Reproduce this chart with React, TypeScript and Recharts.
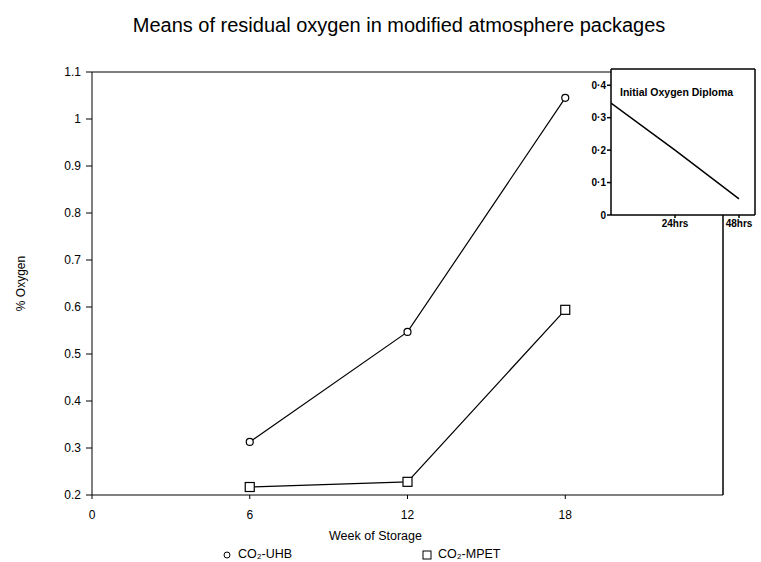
import React from "react";
import {
  LineChart,
  Line,
  XAxis,
  YAxis,
  CartesianGrid,
  ReferenceLine,
  Label,
} from "recharts";

// main chart
const weeks = [6, 12, 18];
const uhbValues = [0.313, 0.547, 1.045];
const mpetValues = [0.217, 0.228, 0.594];
const weekTicks = [0, 6, 12, 18];
const oxygenTicks = [0.2, 0.3, 0.4, 0.5, 0.6, 0.7, 0.8, 0.9, 1.0, 1.1];
const seriesNames = ["CO₂-UHB", "CO₂-MPET"];

// inset chart
const insetHours = [0, 24, 48];
const insetValues = [0.345, 0.2, 0.05];
const insetHourTicks = [24, 48];
const insetOxygenTicks = [0, 0.1, 0.2, 0.3, 0.4];

const FONT = '"Liberation Sans", Arial, Helvetica, sans-serif';

const mainData = weeks.map((w, i) => ({
  week: w,
  uhb: uhbValues[i],
  mpet: mpetValues[i],
}));

const insetData = insetHours.map((h, i) => ({ hrs: h, oxygen: insetValues[i] }));

const SquareDot = (props: any) => {
  const { cx, cy } = props;
  if (cx == null || cy == null) return null;
  return (
    <rect
      x={cx - 4.5}
      y={cy - 4.5}
      width={9}
      height={9}
      fill="#fff"
      stroke="#000"
      strokeWidth={1.2}
    />
  );
};

const tickStyle = { fontSize: 12, fill: "#000", fontFamily: FONT };
const insetTick = { fontSize: 10, fill: "#000", fontFamily: FONT, fontWeight: 700 };

// week tick: small mark under the axis plus the label
const WeekTick = (props: any) => {
  const { x, y, payload } = props;
  return (
    <g>
      <text x={x} y={y + 12} textAnchor="middle" style={tickStyle}>
        {payload.value}
      </text>
    </g>
  );
};

export default function App() {
  return (
    <div
      style={{
        position: "absolute",
        left: 0,
        top: 0,
        width: 761,
        height: 562,
        background: "#fff",
        fontFamily: FONT,
      }}
    >
      <div
        style={{
          position: "absolute",
          top: 14,
          left: 0,
          width: 798,
          textAlign: "center",
          fontSize: 20,
          color: "#000",
        }}
      >
        Means of residual oxygen in modified atmosphere packages
      </div>

      <div style={{ position: "absolute", left: 0, top: 0 }}>
        <LineChart
          width={761}
          height={562}
          data={mainData}
          margin={{ top: 72, right: 38, bottom: 15, left: 12 }}
        >
          <XAxis
            dataKey="week"
            type="number"
            domain={[0, 24]}
            ticks={weekTicks}
            interval={0}
            minTickGap={0}
            height={52}
            tick={<WeekTick />}
            tickSize={4}
            tickMargin={8}
            stroke="#000"
            allowDataOverflow
          >
            <Label
              content={(p: any) => {
                const vb = p.viewBox;
                return (
                  <text
                    x={vb.x + vb.width / 2 - 32}
                    y={vb.y + 45}
                    textAnchor="middle"
                    style={{ ...tickStyle, fontSize: 12.5 }}
                  >
                    Week of Storage
                  </text>
                );
              }}
            />
          </XAxis>
          <YAxis
            type="number"
            domain={[0.2, 1.1]}
            ticks={oxygenTicks}
            interval={0}
            width={80}
            tick={tickStyle}
            tickSize={6}
            tickMargin={5}
            stroke="#000"
            tickFormatter={(v: number) => `${+v.toFixed(1)}`}
            allowDataOverflow
          >
            <Label
              content={(p: any) => {
                const vb = p.viewBox;
                const x = vb.x + 9;
                const y = vb.y + vb.height / 2;
                return (
                  <text
                    x={x}
                    y={y}
                    transform={`rotate(-90, ${x}, ${y})`}
                    textAnchor="middle"
                    dominantBaseline="central"
                    style={tickStyle}
                  >
                    % Oxygen
                  </text>
                );
              }}
            />
          </YAxis>
          <ReferenceLine y={1.1} stroke="#000" strokeWidth={1.2} />
          <ReferenceLine
            x={24}
            stroke="#000"
            strokeWidth={1.5}
            segment={[
              { x: 24, y: 0.19 },
              { x: 24, y: 1.1 },
            ]}
            ifOverflow="visible"
          />
          <Line
            dataKey="uhb"
            name={seriesNames[0]}
            type="linear"
            stroke="#000"
            strokeWidth={1.2}
            dot={{ r: 3.5, fill: "#fff", stroke: "#000", strokeWidth: 1.2 }}
            isAnimationActive={false}
          />
          <Line
            dataKey="mpet"
            name={seriesNames[1]}
            type="linear"
            stroke="#000"
            strokeWidth={1.2}
            dot={<SquareDot />}
            isAnimationActive={false}
          />
        </LineChart>
      </div>

      {/* inset */}
      <div style={{ position: "absolute", left: 540, top: 55 }}>
        <LineChart
          width={221}
          height={190}
          data={insetData}
          margin={{ top: 14, right: 6, bottom: 6, left: 41 }}
        >
          <CartesianGrid fill="#fff" horizontal={false} vertical={false} />
          <XAxis
            dataKey="hrs"
            type="number"
            domain={[0, 54]}
            ticks={insetHourTicks}
            interval={0}
            height={24}
            tick={insetTick}
            tickSize={3}
            tickMargin={2}
            stroke="#000"
            strokeWidth={1.5}
            tickFormatter={(v: number) => `${v}hrs`}
            allowDataOverflow
          />
          <YAxis
            type="number"
            domain={[0, 0.45]}
            ticks={insetOxygenTicks}
            interval={0}
            width={30}
            tick={insetTick}
            tickSize={4}
            tickMargin={1}
            stroke="#000"
            strokeWidth={1.5}
            tickFormatter={(v: number) => (v === 0 ? "0" : v.toFixed(1).replace(".", "·"))}
            allowDataOverflow
          />
          <ReferenceLine y={0.45} stroke="#000" strokeWidth={1.5} />
          <ReferenceLine x={54} stroke="#000" strokeWidth={1.5} />
          <Line
            dataKey="oxygen"
            type="linear"
            stroke="#000"
            strokeWidth={1.5}
            dot={false}
            isAnimationActive={false}
          />
        </LineChart>
        <div
          style={{
            position: "absolute",
            left: 80,
            top: 31,
            fontSize: 10.5,
            fontWeight: 700,
            color: "#000",
            whiteSpace: "nowrap",
          }}
        >
          Initial Oxygen Diploma
        </div>
      </div>

      {/* legend */}
      <div
        style={{
          position: "absolute",
          top: 547,
          left: 222,
          display: "flex",
          fontSize: 12.5,
          color: "#000",
          lineHeight: "15px",
        }}
      >
        <div style={{ display: "flex", alignItems: "center", width: 200 }}>
          <svg width={10} height={10} style={{ marginRight: 6 }}>
            <circle cx={5} cy={5} r={3} fill="#fff" stroke="#000" strokeWidth={1} />
          </svg>
          {seriesNames[0]}
        </div>
        <div style={{ display: "flex", alignItems: "center" }}>
          <svg width={10} height={10} style={{ marginRight: 6 }}>
            <rect x={1} y={1} width={8} height={8} fill="#fff" stroke="#000" strokeWidth={1} />
          </svg>
          {seriesNames[1]}
        </div>
      </div>
    </div>
  );
}
